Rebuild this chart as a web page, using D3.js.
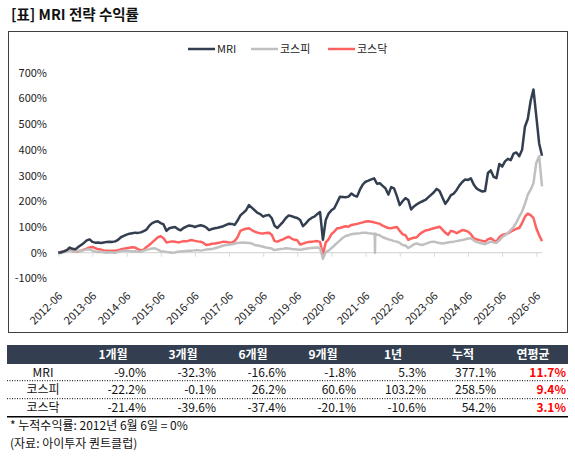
<!DOCTYPE html>
<html>
<head>
<meta charset="utf-8">
<script src="https://cdn.jsdelivr.net/npm/d3@7"></script>
<style>
  body { margin: 0; background: #fff; }
  svg text { font-family: "Noto Sans CJK KR", "Noto Sans", sans-serif; }
</style>
</head>
<body>
<svg id="chart" width="575" height="456"></svg>
<script>
// month index 0 = 2012-06, one value per month (cumulative return, %)
const mri = [
  0, 2, 5, 10, 20, 15, 13, 22, 30, 38, 48, 52,
  42, 39, 40, 38, 40, 42, 43, 42, 44, 50, 60, 65,
  70, 74, 76, 78, 77, 79, 84, 90, 105, 115, 120, 122,
  115, 110, 85, 95, 98, 100, 92, 87, 96, 101, 106, 104,
  100, 104, 107, 104, 98, 88, 92, 95, 97, 100, 103, 108,
  113, 112, 108, 125, 145, 155, 165, 185, 175, 165, 155, 150,
  140, 145, 147, 135, 105, 96, 108, 120, 135, 145, 142, 138,
  135, 127, 103, 114, 127, 135, 140, 150, 158, 50, 127, 152,
  165, 173, 195, 218, 217, 216, 218, 230, 222, 218, 245, 265,
  276, 280, 285, 289, 268, 270, 260, 250, 226, 255, 250, 220,
  185, 200, 212, 205, 168, 180, 188, 195, 200, 205, 215, 225,
  235, 248, 240, 215, 190, 205, 224, 230, 244, 262, 275, 285,
  283, 289, 265, 250, 243, 238, 240, 310, 320, 295, 290, 345,
  335, 355, 365, 360, 385, 390, 375, 400, 490, 520, 590, 635,
  530, 425, 377
];
const kospi = [
  0, -2, 2, 5, 8, 5, 4, 8, 6, 10, 12, 13,
  8, 4, 3, 4, 2, 0, 2, 1, 0, 3, 6, 8,
  8, 7, 5, 6, 4, 4, 8, 11, 14, 16, 17, 12,
  6, 5, 3, 2, 0, 1, 4, 5, 6, 7, 8, 8,
  9, 10, 8, 10, 12, 13, 14, 17, 20, 24, 28, 30,
  31, 33, 35, 38, 39, 40, 39, 38, 36, 30, 28, 26,
  23, 20, 18, 16, 10, 12, 14, 15, 17, 16, 14, 13,
  12, 11, 13, 15, 17, 18, 19, 20, 17, -24, 2, 8,
  18, 28, 38, 48, 58, 65, 68, 72, 74, 75, 76, 78,
  78, 76, 75, 72, 70, 68, 60, 56, 52, 49, 45, 43,
  38, 30, 28, 18, 25, 33, 36, 32, 30, 34, 38, 42,
  43, 40, 38, 36, 38, 40, 42, 43, 45, 47, 49, 52,
  55, 56, 48, 42, 38, 36, 33, 38, 43, 40, 39, 48,
  60, 68, 76, 88, 100, 118, 140, 160, 190, 225, 245, 270,
  350, 375, 258
];
const kosdaq = [
  0, 3, 6, 10, 13, 6, 4, 6, 8, 12, 16, 20,
  22, 18, 13, 12, 9, 8, 7, 8, 8, 10, 13, 15,
  17, 19, 21, 20, 14, 9, 12, 22, 30, 40, 50, 60,
  64, 56, 40, 42, 44, 43, 40, 42, 45, 44, 47, 49,
  46, 44, 43, 38, 30, 32, 35, 36, 38, 40, 43, 42,
  40, 39, 45, 60, 85, 90, 93, 95, 88, 82, 78, 76,
  75, 77, 78, 70, 45, 43, 48, 52, 58, 62, 55, 50,
  48, 32, 35, 39, 42, 43, 44, 45, 42, -8, 40, 52,
  72, 82, 95, 96, 100, 103, 101, 108, 110, 112, 115, 118,
  121, 122, 120, 118, 115, 112, 105, 100, 96, 95, 98, 100,
  85, 72, 68, 50, 55, 58, 60, 72, 80, 86, 88, 92,
  95, 98, 101, 90, 78, 70, 85, 82, 76, 82, 88, 86,
  82, 72, 56, 52, 49, 46, 43, 52, 56, 48, 43, 60,
  69, 72, 75, 82, 88, 93, 96, 115, 140, 152, 146, 135,
  95, 68, 45
];
// one-day drop in the KOSPI series (2021-09)
const kospiSpike = [[111.2, 74], [111.3, 0], [111.4, 74]];

const seriesNames = ["MRI", "코스피", "코스닥"];
const seriesColors = ["#333f50", "#c0c0c0", "#ff6161"];
const yTicks = [-100, 0, 100, 200, 300, 400, 500, 600, 700];
const xTickLabels = ["2012-06", "2013-06", "2014-06", "2015-06", "2016-06", "2017-06", "2018-06",
  "2019-06", "2020-06", "2021-06", "2022-06", "2023-06", "2024-06", "2025-06", "2026-06"];

const tableCols = ["1개월", "3개월", "6개월", "9개월", "1년", "누적", "연평균"];
const tableRows = [
  ["-9.0%", "-32.3%", "-16.6%", "-1.8%", "5.3%", "377.1%", "11.7%"],
  ["-22.2%", "-0.1%", "26.2%", "60.6%", "103.2%", "258.5%", "9.4%"],
  ["-21.4%", "-39.6%", "-37.4%", "-20.1%", "-10.6%", "54.2%", "3.1%"]
];

const svg = d3.select("#chart");

// title
svg.append("text")
  .attr("x", 11).attr("y", 20)
  .attr("font-size", 14.5).attr("font-weight", "bold").attr("fill", "#111")
  .text("[표] MRI 전략 수익률");

// chart frame
svg.append("rect")
  .attr("x", 8.5).attr("y", 31.5).attr("width", 559).attr("height", 301)
  .attr("fill", "none").attr("stroke", "#404040").attr("stroke-width", 1);

const xScale = d3.scaleLinear().domain([0, mri.length - 1]).range([58.3, 542]);
const yScale = d3.scaleLinear().domain([-100, 700]).range([278.4, 72.7]);

// y labels
const yAxis = d3.axisLeft(yScale).tickValues(yTicks).tickSize(0).tickPadding(0)
  .tickFormat(d => d + "%");
svg.append("g")
  .attr("transform", "translate(47,0)")
  .call(yAxis)
  .call(g => g.select(".domain").remove())
  .selectAll("text")
  .attr("font-size", 11).attr("fill", "#222")
  .style("font-family", "'Noto Sans CJK KR', sans-serif");

// zero line with yearly ticks
const xAxis = d3.axisBottom(xScale)
  .tickValues(xTickLabels.map((d, i) => i * 12))
  .tickSize(4)
  .tickFormat((d, i) => xTickLabels[i]);
const gx = svg.append("g")
  .attr("transform", `translate(0,${yScale(0)})`)
  .call(xAxis);
gx.select(".domain").attr("stroke", "#d9d9d9").attr("stroke-width", 1.2)
  .attr("d", `M${xScale(0)},0H${xScale(mri.length - 1)}`);
gx.selectAll(".tick line").attr("stroke", "#d9d9d9");
gx.selectAll(".tick text").remove();

// rotated date labels
svg.append("g").selectAll("text")
  .data(xTickLabels)
  .join("text")
  .attr("transform", (d, i) => `translate(${xScale(i * 12) + 2},${294}) rotate(-45)`)
  .attr("text-anchor", "end")
  .attr("dy", "0.35em")
  .attr("font-size", 11).attr("fill", "#222")
  .text(d => d);

// lines
const lineGenerator = d3.line()
  .x(d => xScale(d[0]))
  .y(d => yScale(d[1]));

const kospiPoints = kospi.map((v, i) => [i, v]).concat(kospiSpike).sort((a, b) => a[0] - b[0]);
const seriesData = [
  kosdaq.map((v, i) => [i, v]),
  kospiPoints,
  mri.map((v, i) => [i, v])
];
const drawOrder = [2, 1, 0];

svg.append("g").selectAll("path")
  .data(seriesData)
  .join("path")
  .attr("d", d => lineGenerator(d))
  .attr("fill", "none")
  .attr("stroke", (d, i) => seriesColors[drawOrder[i]])
  .attr("stroke-width", 2.5)
  .attr("stroke-linejoin", "round");

// legend
const legendX = [188, 251, 328];
const legend = svg.append("g").selectAll("g")
  .data(seriesNames)
  .join("g")
  .attr("transform", (d, i) => `translate(${legendX[i]},49)`);
legend.append("line")
  .attr("x1", 0).attr("x2", 27).attr("y1", 0).attr("y2", 0)
  .attr("stroke", (d, i) => seriesColors[i]).attr("stroke-width", 2.5);
legend.append("text")
  .attr("x", 29).attr("dy", "0.35em")
  .attr("font-size", 11).attr("fill", "#222")
  .text(d => d);

// table
const colX = d3.range(tableCols.length).map(i => 78 + i * 70);
const colW = 70;
svg.append("rect")
  .attr("x", 7).attr("y", 345).attr("width", 561).attr("height", 19)
  .attr("fill", "#333f50");
svg.append("g").selectAll("text")
  .data(tableCols)
  .join("text")
  .attr("x", (d, i) => colX[i] + colW / 2)
  .attr("y", 355).attr("dy", "0.35em")
  .attr("text-anchor", "middle")
  .attr("font-size", 12).attr("font-weight", "bold").attr("fill", "#fff")
  .text(d => d);

const rowY = [372.7, 390, 407.3];
tableRows.forEach((row, r) => {
  svg.append("text")
    .attr("x", 43).attr("y", rowY[r]).attr("dy", "0.35em")
    .attr("text-anchor", "middle")
    .attr("font-size", 12).attr("fill", "#111")
    .text(seriesNames[r]);
  svg.append("g").selectAll("text")
    .data(row)
    .join("text")
    .attr("x", (d, i) => colX[i] + colW - 2)
    .attr("y", rowY[r]).attr("dy", "0.35em")
    .attr("text-anchor", "end")
    .attr("font-size", 12)
    .attr("font-weight", (d, i) => i === row.length - 1 ? "bold" : "normal")
    .attr("fill", (d, i) => i === row.length - 1 ? "#ff0000" : "#111")
    .text(d => d);
});

// row separators
[380.7, 398.7].forEach(y => {
  svg.append("line")
    .attr("x1", 7).attr("x2", 568).attr("y1", y).attr("y2", y)
    .attr("stroke", "#000").attr("stroke-width", 1).attr("stroke-dasharray", "1,1.5");
});
svg.append("line")
  .attr("x1", 7).attr("x2", 568).attr("y1", 416.7).attr("y2", 416.7)
  .attr("stroke", "#000").attr("stroke-width", 1.5);

// notes
svg.append("text")
  .attr("x", 10).attr("y", 425.5).attr("dy", "0.35em")
  .attr("font-size", 12).attr("fill", "#111")
  .text("* 누적수익률: 2012년 6월 6일 = 0%");
svg.append("text")
  .attr("x", 10).attr("y", 443.5).attr("dy", "0.35em")
  .attr("font-size", 12).attr("fill", "#111")
  .text("(자료: 아이투자 퀀트클럽)");
</script>
</body>
</html>
